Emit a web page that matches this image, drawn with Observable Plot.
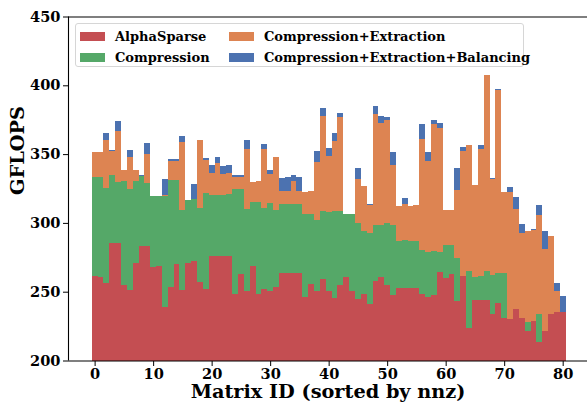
<!DOCTYPE html>
<html>
<head>
<meta charset="utf-8">
<script src="https://cdn.jsdelivr.net/npm/d3@7"></script>
<script src="https://cdn.jsdelivr.net/npm/@observablehq/plot@0.6"></script>
<style>
  html, body { margin: 0; padding: 0; background: #fff; }
  #wrap { position: relative; width: 587px; height: 403px; font-family: "DejaVu Serif", serif; font-weight: bold; }
  #legend { position: absolute; left: 75px; top: 23px; width: 449px; height: 44px; box-sizing: border-box;
    border: 1px solid #d6d6d6; border-radius: 3px; background: rgba(255,255,255,0.85); font-size: 13px; color: #000; }
  .item { position: absolute; display: flex; align-items: center; white-space: nowrap; }
  .sw { width: 25px; height: 9px; margin-right: 10px; }
</style>
</head>
<body>
<div id="wrap"></div>
<script>
const seriesNames = ["AlphaSparse", "Compression", "Compression+Extraction", "Compression+Extraction+Balancing"];
const seriesColors = ["#C44E52", "#55A868", "#DD8452", "#4C72B0"];
const xTicks = [0, 10, 20, 30, 40, 50, 60, 70, 80];
const yTicks = [200, 250, 300, 350, 400, 450];

const alphaSparse = [261.7,261,256.6,285.6,285.6,255.2,251.5,271.1,283.5,283.5,
  268.2,268.9,239.2,253.7,270.4,251.5,271.1,272.6,257.3,252.2,
  276.2,276.2,276.2,276.2,248.6,263.1,250.8,268.9,248.6,252.2,
  250.8,253.7,263.9,263.9,263.9,263.9,246.4,255.9,250.8,259.5,
  250.8,245.7,255.2,261,250.8,245,248.6,241.4,258.1,261,
  255.2,247.9,253,253,253,253,248.6,246.4,247.9,264.6,
  260.2,263.1,243.5,261.7,223.9,244.3,244.3,244.3,234.1,242.1,
  231.2,230.5,237.7,231.2,221.8,229,213.1,221.8,234.1,235.6,235.6];

const compression = [333.5,333.5,325.5,335,329.9,330.6,324.8,330.6,334.3,329.2,
  319.7,319.7,319.7,331.3,331.3,309.6,316.8,317.6,311,321.9,
  320.5,320.5,320.5,321.2,324.8,324.8,310.3,315.4,315.4,311,
  314.7,309.6,313.9,313.9,313.9,313.9,306.7,306.7,302.3,308.9,
  308.1,308.9,308.9,306.7,306.7,299.7,293.9,292.4,298.7,298.7,
  299.7,298.2,287.1,287.8,287.1,287.1,280.6,279.1,279.8,279.1,
  284.2,284.2,274.7,261.7,265.3,261,261.7,265.3,262.4,263.9,
  263.9,230.5,237.7,231.2,228.3,229,234.1,221.8,234.1,235.6,235.6];

const compExtraction = [351.7,351.7,360.4,352.4,366.9,338.6,348,338.6,334.3,350.2,
  319.7,319.7,320.5,345.1,345.1,358.9,316.8,317.6,360.4,345.9,
  336.4,343.7,335.7,336.4,333.5,333.5,353.8,329.9,330.6,353.8,
  335.7,348,323.4,323.4,330.6,323.4,322.6,323.4,344.4,377.8,
  348.8,359.7,377.1,306.7,306.7,332.1,327,313.2,379.2,372.7,
  374.9,342.2,312.5,313.9,312.5,313.2,361.1,345.1,372,369.1,
  309.6,309.6,324.1,352.4,356.7,327.7,353.8,407.5,332.1,396.7,
  322.6,322.6,310.3,292.9,294.3,295.1,306,281.3,290.7,250.8,235.6];

const compExtractionBalancing = [351.7,351.7,365.5,353.1,374.2,338.6,353.1,338.6,335,358.2,
  319.7,319.7,332.1,346.6,346.6,363.3,316.8,328.4,360.4,347.3,
  342.2,348,341.5,342.2,335,335,360.4,329.9,330.6,357.5,
  338.6,348,332.8,333.5,335,333.5,322.6,323.4,352.4,383.6,
  354.6,365.5,380,306.7,306.7,340.1,327,313.9,385,377.8,
  377.1,351.7,312.5,318.3,312.5,313.2,372,351.7,374.9,372.7,
  309.6,309.6,340.1,355.3,356.7,327.7,356.7,407.5,332.8,397.4,
  322.6,326.3,319,299.4,294.3,295.8,313.2,294.3,290.7,256.6,247.2];

const xDomain = [-4.55, 84.55];
const yDomain = [200, 450];
const ids = d3.range(alphaSparse.length);
const seriesValues = [alphaSparse, compression, compExtraction, compExtractionBalancing];

const barMark = (k) => Plot.rect(ids, {
  x1: i => i - 0.5, x2: i => i + 0.5,
  y1: yDomain[0], y2: i => seriesValues[k][i],
  fill: seriesColors[k],
  shapeRendering: "crispEdges"
});

const chart = Plot.plot({
  width: 587,
  height: 403,
  marginLeft: 68,
  marginRight: 0,
  marginTop: 16,
  marginBottom: 42,
  style: { fontFamily: "DejaVu Serif", fontWeight: "bold", color: "#000", background: "#fff" },
  x: { domain: xDomain, range: [68, 589.3] },
  y: { domain: yDomain, range: [360.5, 16.5] },
  marks: [
    barMark(3), barMark(2), barMark(1), barMark(0),
    Plot.ruleY([yDomain[0], yDomain[1]], { x1: xDomain[0], x2: xDomain[1], stroke: "#000", strokeWidth: 1.1 }),
    Plot.ruleX([xDomain[0]], { y1: yDomain[0], y2: yDomain[1], stroke: "#000", strokeWidth: 1.1 }),
    Plot.axisX({ ticks: xTicks, tickSize: 5, tickPadding: 2.5, fontSize: 14.6, fontWeight: "bold", label: null, tickFormat: d => String(d) }),
    Plot.axisY({ ticks: yTicks, tickSize: 5, tickPadding: 3, fontSize: 14.6, fontWeight: "bold", label: null, tickFormat: d => String(d) }),
    Plot.text(["Matrix ID (sorted by nnz)"], { frameAnchor: "bottom", lineAnchor: "middle", dy: 30.5, fontSize: 19.3, fontWeight: "bold", fill: "#000", text: d => d }),
    Plot.text(["GFLOPS"], { frameAnchor: "left", dx: -51, dy: 6, rotate: -90, fontSize: 19.3, fontWeight: "bold", fill: "#000", text: d => d })
  ]
});

const wrap = document.getElementById("wrap");
wrap.appendChild(chart);

const legend = document.createElement("div");
legend.id = "legend";
const pos = [[4, 5], [4, 26], [153, 5], [153, 26]];
seriesNames.forEach((name, k) => {
  const it = document.createElement("div");
  it.className = "item";
  it.style.left = pos[k][0] + "px";
  it.style.top = pos[k][1] + "px";
  const sw = document.createElement("div");
  sw.className = "sw";
  sw.style.background = seriesColors[k];
  const tx = document.createElement("span");
  tx.textContent = name;
  it.appendChild(sw); it.appendChild(tx);
  legend.appendChild(it);
});
wrap.appendChild(legend);
</script>
</body>
</html>
